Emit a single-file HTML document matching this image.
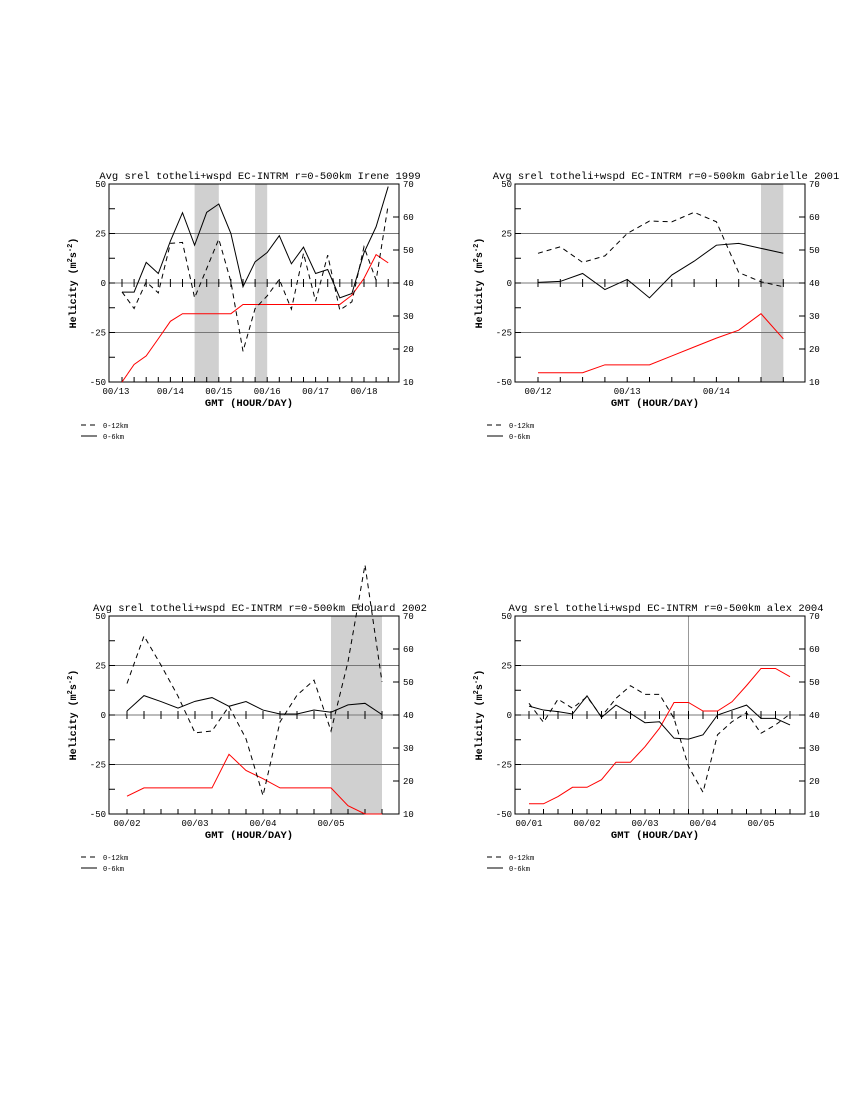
<!DOCTYPE html>
<html><head><meta charset="utf-8"><style>
body{margin:0;background:#fff}
svg{display:block}
text{font-family:"Liberation Mono",monospace;fill:#000}
</style></head><body>
<svg id="s" width="850" height="1100" viewBox="0 0 850 1100"></svg>
<script>
// Panel 1: Irene 1999
const irene_dashed=[-4.5,-12.9,0.6,-5,20,20.5,-7.5,7.3,22.2,0.6,-34.5,-12.9,-6.5,1.8,-13.2,15,-9.2,14.1,-13.7,-9.5,18.3,1.4,39.4];
const irene_solid=[-4.6,-4.6,10.4,4.8,21.2,35.5,19.1,35.7,39.9,25,-1.9,10.7,15.4,23.9,9.7,18.1,4.8,6.8,-7.5,-5.3,15.3,28.4,48.7];
const irene_wspd=[10,15.3,17.9,23.1,28.4,30.7,30.7,30.7,30.7,30.7,33.5,33.5,33.5,33.5,33.5,33.5,33.5,33.5,33.5,36.3,41.4,48.6,46.1];
const irene_labels=["00/13","00/14","00/15","00/16","00/17","00/18"];
const irene_labelIdx=[-0.5,4,8,12,16,20];
const irene_shade=[[6,8],[11,12]];
// Panel 2: Gabrielle 2001
const gab_dashed=[15,18.3,10.4,13.7,25,31.3,30.9,35.7,30.9,5.3,0.6,-1.9];
const gab_solid=[0.3,0.8,4.8,-3.3,1.8,-7.5,4,11,19.1,20,17.5,15];
const gab_wspd=[12.8,12.8,12.8,15.2,15.2,15.2,17.9,20.6,23.3,25.7,30.7,23.1];
const gab_labels=["00/12","00/13","00/14"];
const gab_labelIdx=[0,4,8];
const gab_shade=[[10,11]];
// Panel 3: Edouard 2002
const edo_dashed=[15.9,39.9,25.2,9.5,-9,-8.1,4.4,-12,-40.7,-3.5,10,17.6,-8.1,26.9,75.8,16.7];
const edo_solid=[2,9.8,6.8,3.5,6.9,8.8,4.4,6.8,2.5,0.5,0.5,2.5,1.4,5.1,5.9,0.2];
const edo_wspd=[15.4,17.9,17.9,17.9,17.9,17.9,28.1,23.2,20.7,17.9,17.9,17.9,17.9,12.5,10,10];
const edo_labels=["00/02","00/03","00/04","00/05"];
const edo_labelIdx=[0,4,8,12];
const edo_shade=[[12,15]];
// Panel 4: Alex 2004
const alex_dashed=[5.9,-3.7,8,3.4,9.2,-0.8,8.4,14.8,10.4,10.4,-1.7,-26,-39,-10,-3.4,1.2,-9.2,-5,0.5];
const alex_solid=[4.5,2.5,1.7,0.5,9.7,-1.2,5,0.8,-3.9,-3.4,-11.7,-12.2,-10,0,2.5,5,-1.7,-1.7,-5];
const alex_wspd=[13.1,13.1,15.3,18.1,18.1,20.4,25.7,25.7,30.4,36,43.8,43.8,41.2,41.2,44,48.9,54.1,54.1,51.6];
const alex_labels=["00/01","00/02","00/03","00/04","00/05"];
const alex_labelIdx=[0,4,8,12,16];
const alex_vline=[11];

const NS="http://www.w3.org/2000/svg";
const svg=document.getElementById('s');
function mk(tag,attrs,parent){const e=document.createElementNS(NS,tag);for(const k in attrs)e.setAttribute(k,attrs[k]);(parent||svg).appendChild(e);return e;}

function panel(cfg){
  const g=mk('g',{});
  
  
  const L=cfg.left,R=L+290,T=cfg.top,B=T+198;
  const y=v=>T+(50-v)/100*(B-T);
  const y2=v=>T+(70-v)/60*(B-T);
  const x=i=>cfg.x0+i*cfg.dx;
  (cfg.shade||[]).forEach(s=>{
    const r=mk('rect',{x:x(s[0]),y:T,width:x(s[1])-x(s[0]),height:B-T,fill:'#d0d0d0'},g);
    
    
  });
  (cfg.vline||[]).forEach(i=>{
    const l=mk('line',{x1:x(i),x2:x(i),y1:T,y2:B,stroke:'#999','stroke-width':1},g);
    
    
  });
  [25,0,-25].forEach(v=>{
    const l=mk('line',{x1:L,x2:R,y1:y(v),y2:y(v),stroke:'#777','stroke-width':1},g);
    
    
  });
  const fr=mk('rect',{x:L,y:T,width:R-L,height:B-T,fill:'none',stroke:'#000','stroke-width':1},g);
  
  
  for(let v=-50;v<=50;v+=12.5){mk('line',{x1:L,x2:L+6,y1:y(v),y2:y(v),stroke:'#000'},g);}
  for(let v=10;v<=70;v+=10){mk('line',{x1:R-6,x2:R,y1:y2(v),y2:y2(v),stroke:'#000'},g);}
  for(let i=0;i<cfg.n;i++){mk('line',{x1:x(i),x2:x(i),y1:B,y2:B-5,stroke:'#000'},g);mk('line',{x1:x(i),x2:x(i),y1:y(0)-4,y2:y(0)+4,stroke:'#000'},g);}
  [50,25,0,-25,-50].forEach(v=>{const t=mk('text',{x:L-3,y:y(v)+3,'font-size':9,'text-anchor':'end'},g);t.textContent=v;
    });
  [70,60,50,40,30,20,10].forEach(v=>{const t=mk('text',{x:R+4,y:y2(v)+3,'font-size':9},g);t.textContent=v;
    });
  cfg.labels.forEach((s,k)=>{const t=mk('text',{x:x(cfg.labelIdx[k]),y:B+12,'font-size':9,'text-anchor':'middle'},g);t.textContent=s;
    });
  const line=(arr,f,col,dash,nm)=>{const p=mk('polyline',{points:arr.map((v,i)=>x(i)+','+f(v)).join(' '),fill:'none',stroke:col,'stroke-width':1,'stroke-dasharray':dash||'none'},g);
    };
  line(cfg.wspd,y2,'#f00',null,'wind-speed-line');
  line(cfg.solid,y,'#000',null,'helicity-0-6km-line');
  line(cfg.dashed,y,'#000','5,4','helicity-0-12km-line');
  const tt=mk('text',{x:(L+R)/2+6,y:T-5,'font-size':10.5,'text-anchor':'middle'},g);tt.textContent=cfg.title;
  
  const xt=mk('text',{x:(L+R)/2-5,y:B+24,'font-size':10.5,'text-anchor':'middle','font-weight':'bold'},g);xt.textContent='GMT (HOUR/DAY)';
  
  const yt=mk('text',{x:0,y:0,'font-size':10,'text-anchor':'middle','font-weight':'bold',transform:`translate(${L-33},${(T+B)/2}) rotate(-90)`},g);
  yt.innerHTML='Helicity (m<tspan font-size="7" dy="-4">2</tspan><tspan dy="4">s</tspan><tspan font-size="7" dy="-4">-2</tspan><tspan dy="4">)</tspan>';
  
  const ly=B+43;
  mk('line',{x1:L-28,x2:L-12,y1:ly,y2:ly,stroke:'#000','stroke-dasharray':'5,4'},g);
  mk('line',{x1:L-28,x2:L-12,y1:ly+11,y2:ly+11,stroke:'#000'},g);
  const l1=mk('text',{x:L-6,y:ly+3,'font-size':7},g);l1.textContent='0-12km';
  
  const l2=mk('text',{x:L-6,y:ly+14,'font-size':7},g);l2.textContent='0-6km';
  
}
panel({name:'irene-1999-chart',left:109,top:184,x0:122,dx:12.1,n:23,dashed:irene_dashed,solid:irene_solid,wspd:irene_wspd,labels:irene_labels,labelIdx:irene_labelIdx,shade:irene_shade,title:'Avg srel totheli+wspd EC-INTRM r=0-500km Irene 1999'});
panel({name:'gabrielle-2001-chart',left:515,top:184,x0:538,dx:22.3,n:12,dashed:gab_dashed,solid:gab_solid,wspd:gab_wspd,labels:gab_labels,labelIdx:gab_labelIdx,shade:gab_shade,title:'Avg srel totheli+wspd EC-INTRM r=0-500km Gabrielle 2001'});
panel({name:'edouard-2002-chart',left:109,top:616,x0:127,dx:17.0,n:16,dashed:edo_dashed,solid:edo_solid,wspd:edo_wspd,labels:edo_labels,labelIdx:edo_labelIdx,shade:edo_shade,title:'Avg srel totheli+wspd EC-INTRM r=0-500km Edouard 2002'});
panel({name:'alex-2004-chart',left:515,top:616,x0:529,dx:14.5,n:19,dashed:alex_dashed,solid:alex_solid,wspd:alex_wspd,labels:alex_labels,labelIdx:alex_labelIdx,vline:alex_vline,title:'Avg srel totheli+wspd EC-INTRM r=0-500km alex 2004'});
</script>
</body></html>
